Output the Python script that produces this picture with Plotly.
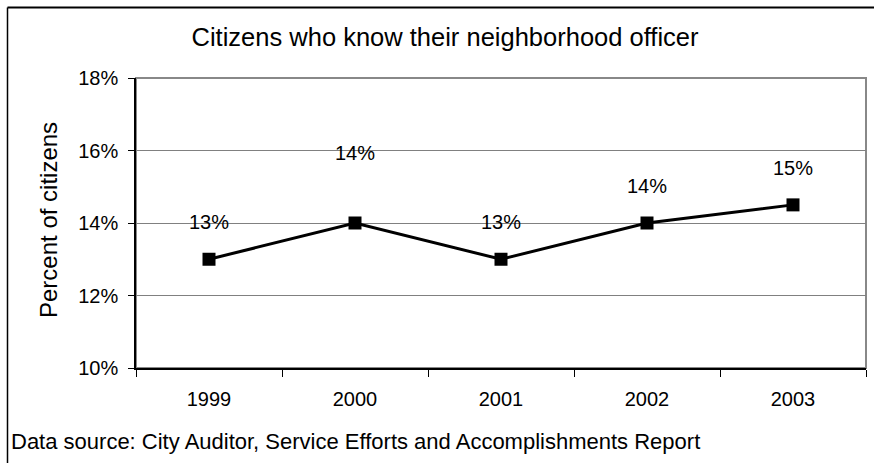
import plotly.graph_objects as go

years = ["1999", "2000", "2001", "2002", "2003"]
values = [13.0, 14.0, 13.0, 14.0, 14.5]
labels = ["13%", "14%", "13%", "14%", "15%"]
label_shift = [37, 70, 37, 37, 37]
y_ticks = [10, 12, 14, 16, 18]
y_tick_text = ["10%", "12%", "14%", "16%", "18%"]

W, H = 874, 463
L, R, T, B = 136, 8, 78, 95
pw, ph = W - L - R, H - T - B

def px(x):
    return (x - L) / pw

def py(y):
    return (H - B - y) / ph

FONT = "Liberation Sans, Arial, sans-serif"

fig = go.Figure()
fig.add_trace(go.Scatter(
    x=years, y=values, mode="lines+markers",
    line=dict(color="black", width=3),
    marker=dict(symbol="square", size=13, color="black"),
    hoverinfo="skip", showlegend=False,
))

annotations = []
for i, (v, lab, s) in enumerate(zip(values, labels, label_shift)):
    # category index on the x axis
    annotations.append(dict(x=i, y=v, xref="x", yref="y", text=lab,
                            showarrow=False, yshift=s,
                            xanchor="center", yanchor="middle",
                            font=dict(family=FONT, size=20, color="black")))
annotations.append(dict(text="Percent of citizens", xref="paper", yref="paper",
                        x=px(48), y=py(220), textangle=-90, showarrow=False,
                        xanchor="center", yanchor="middle",
                        font=dict(family=FONT, size=24, color="black")))
annotations.append(dict(text="Data source: City Auditor, Service Efforts and Accomplishments Report",
                        xref="paper", yref="paper", x=px(9), y=py(441),
                        showarrow=False, xanchor="left", yanchor="middle",
                        font=dict(family=FONT, size=22, color="black")))

fig.update_layout(
    width=W, height=H,
    margin=dict(l=L, r=R, t=T, b=B),
    paper_bgcolor="white", plot_bgcolor="white",
    font=dict(family=FONT, size=20, color="black"),
    title=dict(text="Citizens who know their neighborhood officer",
               x=445 / W, xanchor="center", y=1 - 37 / H, yanchor="middle",
               font=dict(family=FONT, size=25.5, color="black")),
    xaxis=dict(type="category", tickson="boundaries", ticks="outside",
               ticklen=7, tickcolor="black", tickwidth=1,
               showline=True, linecolor="black", linewidth=1.5,
               showgrid=False, zeroline=False, ticklabelstandoff=12,
               range=[-0.5, 4.5], fixedrange=True),
    yaxis=dict(range=[10, 18], tickvals=y_ticks, ticktext=y_tick_text,
               ticks="outside", ticklen=6, tickcolor="black", tickwidth=1,
               showline=True, linecolor="black", linewidth=1.5,
               showgrid=True, gridcolor="#808080", gridwidth=1,
               zeroline=False, ticklabelstandoff=6, fixedrange=True),
    shapes=[
        dict(type="rect", xref="paper", yref="paper", x0=0, y0=0, x1=1, y1=1,
             line=dict(color="#888888", width=2), layer="below"),
        dict(type="line", xref="paper", yref="paper",
             x0=px(7.5), x1=px(880), y0=py(7.5), y1=py(7.5),
             line=dict(color="black", width=2)),
        dict(type="line", xref="paper", yref="paper",
             x0=px(7.5), x1=px(7.5), y0=py(7.5), y1=py(470),
             line=dict(color="black", width=1.5)),
    ],
    annotations=annotations,
)

fig.write_html("out.html")
